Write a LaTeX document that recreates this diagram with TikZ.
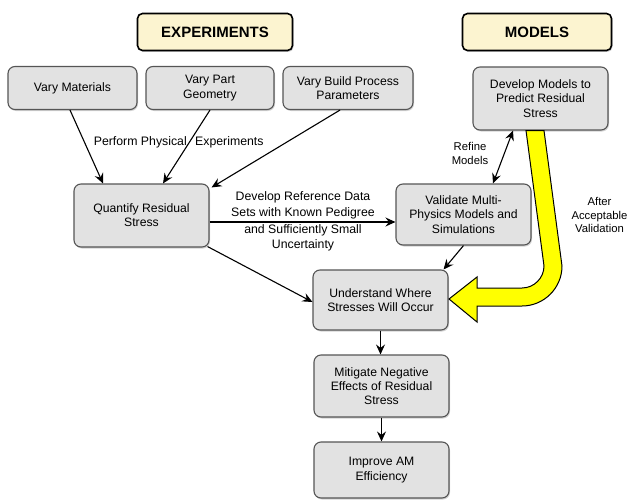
\documentclass[tikz,border=0pt]{standalone}
\usepackage{fontspec}
\setmainfont{Liberation Sans}
\usetikzlibrary{arrows.meta,shadows}
\definecolor{boxfill}{RGB}{226,226,226}
\definecolor{boxdraw}{RGB}{85,85,85}
\definecolor{hdrfill}{RGB}{252,244,208}
\definecolor{arrowyellow}{RGB}{255,255,0}
\begin{document}
\begin{tikzpicture}[x=1pt,y=-1pt,
  procbox/.style={draw=boxdraw,line width=1.1pt,fill=boxfill,rounded corners=7pt,
    align=center,inner sep=2pt,font=\fontsize{12.2}{14.2}\selectfont,
    drop shadow={shadow xshift=1pt,shadow yshift=-1.5pt,opacity=0.35}},
  hdrbox/.style={draw=black,line width=1.6pt,fill=hdrfill,rounded corners=5pt,
    font=\bfseries\fontsize{15}{17}\selectfont,
    drop shadow={shadow xshift=1pt,shadow yshift=-1.5pt,opacity=0.35}},
  lbl/.style={align=center,inner sep=1pt,font=\fontsize{12.3}{15.8}\selectfont},
  slbl/.style={align=center,inner sep=1pt,font=\fontsize{11.3}{13.3}\selectfont},
  conn/.style={line width=1.1pt,-{Stealth[length=10pt,width=9pt,inset=3.5pt]}},
  conn2/.style={line width=1.1pt,{Stealth[length=10pt,width=9pt,inset=3.5pt]}-{Stealth[length=10pt,width=9pt,inset=3.5pt]}}
]
\useasboundingbox (0,0) rectangle (628,500);

\node[hdrbox,minimum width=155pt,minimum height=37pt] (exp) at (215,32) {EXPERIMENTS};
\node[hdrbox,minimum width=149pt,minimum height=37pt] (mod) at (537,32) {MODELS};

\node[procbox,minimum width=129pt,minimum height=43pt] (vm) at (72.5,88) {Vary Materials};
\node[procbox,minimum width=128pt,minimum height=43pt] (vg) at (210,88) {Vary Part\\Geometry};
\node[procbox,minimum width=130pt,minimum height=43pt] (vb) at (348,88) {Vary Build Process\\Parameters};
\node[procbox,minimum width=135pt,minimum height=63pt] (dm) at (540.5,98.5) {Develop Models to\\Predict Residual\\Stress};
\node[procbox,minimum width=135pt,minimum height=63pt] (qr) at (141.5,215.5) {Quantify Residual\\Stress};
\node[procbox,minimum width=135pt,minimum height=61pt] (vv) at (463.5,214.5) {Validate Multi-\\Physics Models and\\Simulations};
\node[procbox,minimum width=135pt,minimum height=60pt] (us) at (380.5,300) {Understand Where\\Stresses Will Occur};
\node[procbox,minimum width=135pt,minimum height=62pt] (mn) at (381.5,386) {Mitigate Negative\\Effects of Residual\\Stress};
\node[procbox,minimum width=135pt,minimum height=56pt] (im) at (381.5,470) {Improve AM\\Efficiency};

% yellow arrow
\draw[line width=1pt,fill=arrowyellow,line join=miter]
  ([xshift=3.5pt]dm.south) -- (562,266) .. controls (562,288) and (544,306) .. (522,306)
  -- (477,306) -- (477,322) -- (449,299) -- (477,277) -- (477,288) -- (522,288)
  .. controls (534,288) and (544,278) .. (544,266) -- ([xshift=-14.5pt]dm.south) -- cycle;

% connectors
\draw[conn] ([xshift=-2.5pt]vm.south) -- ([xshift=-38.5pt]qr.north);
\draw[conn] (vg.south) -- ([xshift=21.5pt]qr.north);
\draw[conn] ([xshift=-8pt]vb.south) -- ([xshift=2pt,yshift=-4pt]qr.north east);
\draw[conn] ([yshift=-6.5pt]qr.east) -- ([yshift=-7.5pt]vv.west);
\draw[conn] ([xshift=-2pt,yshift=1pt]qr.south east) -- ([yshift=-2pt]us.west);
\draw[conn] (vv.south) -- ([xshift=-5pt]us.north east);
\draw[conn2] ([xshift=-27.5pt]dm.south) -- ([xshift=29.5pt]vv.north);
\draw[conn] (us.south) -- ([xshift=-1pt]mn.north);
\draw[conn] (mn.south) -- (im.north);

% labels
\node[lbl,anchor=east] (lp1) at (188,142) {Perform Physical};
\node[lbl,anchor=west] (lp2) at (194,142) {Experiments};
\node[lbl,anchor=south] (ld1) at (303,220) {Develop Reference Data\\Sets with Known Pedigree};
\node[lbl,anchor=north] (ld2) at (303,223) {and Sufficiently Small\\Uncertainty};
\node[slbl] (lr) at (470,153.5) {Refine\\Models};
\node[slbl] (la) at (599.5,215) {After\\Acceptable\\Validation};
\end{tikzpicture}
\end{document}
